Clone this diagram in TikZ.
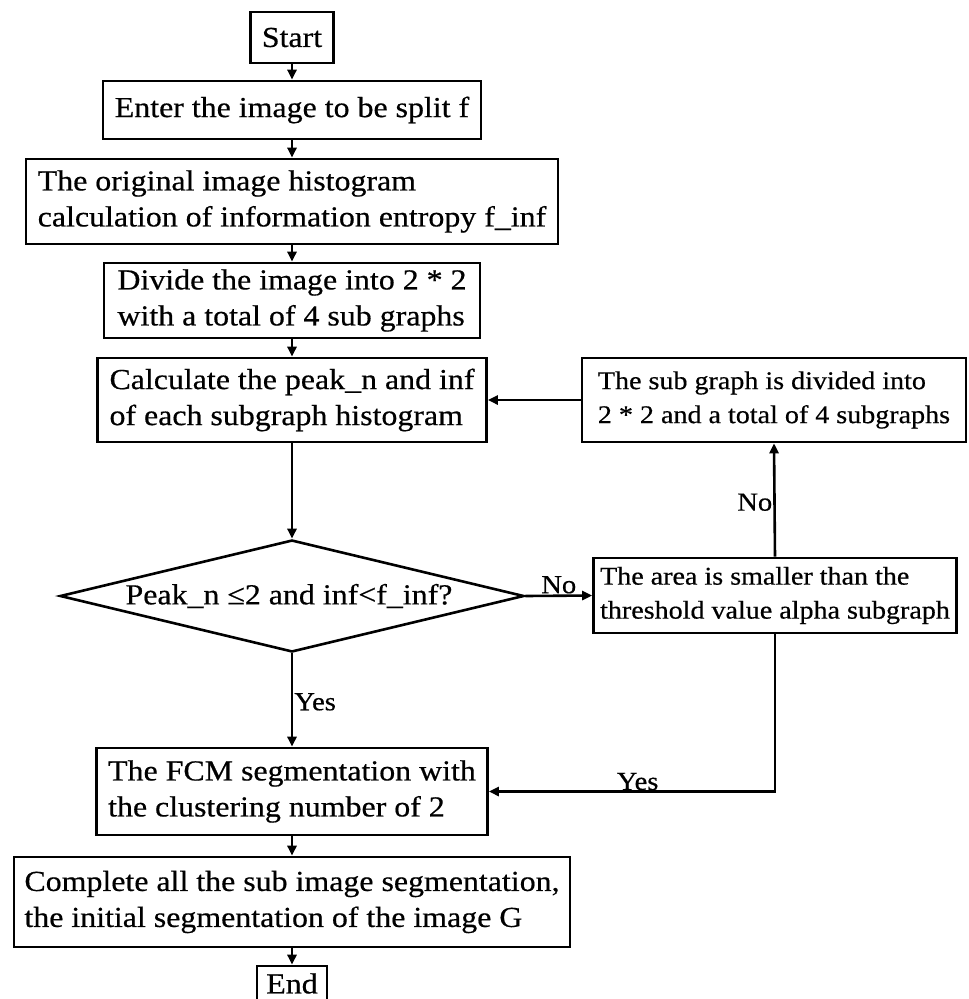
\documentclass[tikz,border=0pt]{standalone}
\usepackage{fontspec}
\setmainfont[FakeStretch=1.1,FakeBold=0.5]{Liberation Serif}
\usetikzlibrary{shapes.geometric,arrows.meta}
\begin{document}
\begin{tikzpicture}[x=1pt,y=-1pt,
  box/.style={draw, line width=2.6pt, rectangle, align=left, inner sep=0pt, font=\fontsize{29}{36}\selectfont},
  sbox/.style={box, font=\fontsize{25.5}{34}\selectfont},
  lbl/.style={font=\fontsize{26}{30}\selectfont, inner sep=1pt},
  arr/.style={line width=2.6pt, -{Triangle[length=10pt,width=9pt]}}]
\useasboundingbox (0,0) rectangle (969,999);

\node[box, minimum width=83, minimum height=51] (start) at (292,37.5) {Start};
\node[box, minimum width=378, minimum height=58] (b2) at (292,110) {Enter the image to be split f};
\node[box, minimum width=532, minimum height=85] (b3) at (292,201.5) {The original image histogram\\calculation of information entropy f\_inf};
\node[box, minimum width=376, minimum height=75] (b4) at (292,300.5) {Divide the image into 2 * 2\\with a total of 4 sub graphs};
\node[box, minimum width=389, minimum height=84] (b5) at (292,400) {Calculate the peak\_n and inf\\of each subgraph histogram};
\node[draw, diamond, line width=2.6pt, minimum width=464, minimum height=112, inner sep=0pt, aspect=4.14] (dec) at (292,596) {};
\node[font=\fontsize{29}{36}\selectfont, inner sep=0pt] (dectext) at (289,596) {Peak\_n ≤2 and inf<f\_inf?};
\node[sbox, minimum width=384, minimum height=84] (bA) at (774,400) {The sub graph is divided into\\2 * 2 and a total of 4 subgraphs};
\node[sbox, minimum width=363, minimum height=75] (bB) at (775,595.5) {The area is smaller than the\\threshold value alpha subgraph};
\node[box, minimum width=391, minimum height=87] (fcm) at (292,791.5) {The FCM segmentation with\\the clustering number of 2};
\node[box, minimum width=556, minimum height=90] (comp) at (292,902) {Complete all the sub image segmentation,\\the initial segmentation of the image G};
\node[box, minimum width=70, minimum height=44] (end) at (292,988) {};
\node[font=\fontsize{29}{36}\selectfont, inner sep=0pt] (endtext) at (292,983.5) {End};

\draw[arr] (start.south) -- (b2.north);
\draw[arr] (b2.south) -- (b3.north);
\draw[arr] (b3.south) -- (b4.north);
\draw[arr] (b4.south) -- (b5.north);
\draw[arr] (b5.south) -- (dec.north);
\draw[arr] (dec.south) -- node[lbl, right, pos=0.52] {Yes} (fcm.north);
\draw[arr] (dec.east) -- node[lbl, above] {No} (bB.west);
\draw[arr] (bB.north) -- node[lbl, left, pos=0.48] {No} (bA.south);
\draw[arr] (bA.west) -- (b5.east);
\draw[arr] (bB.south) |- node[lbl, above, pos=0.74, inner sep=0pt] {Yes} (fcm.east);
\draw[arr] (fcm.south) -- (comp.north);
\draw[arr] (comp.south) -- (end.north);
\end{tikzpicture}
\end{document}
